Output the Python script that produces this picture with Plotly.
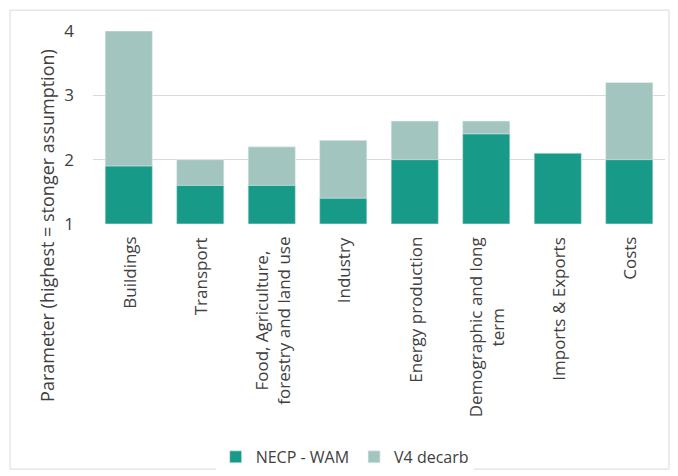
import plotly.graph_objects as go

categories = ["Buildings", "Transport", "Food, Agriculture,<br>forestry and land use", "Industry",
              "Energy production", "Demographic and long<br>term", "Imports & Exports", "Costs"]
necp_wam = [1.9, 1.6, 1.6, 1.4, 2.0, 2.4, 2.1, 2.0]
v4_decarb = [4.0, 2.0, 2.2, 2.3, 2.6, 2.6, 2.1, 3.2]
base_value = 1
y_title = "Parameter (highest = stonger assumption)"

dark = "#189A89"
light = "#A3C5BF"
text_color = "#404040"
font_family = "Open Sans, Noto Sans, sans-serif"

fig = go.Figure()
fig.add_trace(go.Bar(
    x=categories, y=[v - base_value for v in v4_decarb], base=base_value,
    name="V4 decarb", marker=dict(color=light, line=dict(color="#E6F0EE", width=0.6)),
    legendrank=2,
))
fig.add_trace(go.Bar(
    x=categories, y=[v - base_value for v in necp_wam], base=base_value,
    name="NECP - WAM", marker=dict(color=dark, line=dict(color="#E6F0EE", width=0.6)),
    legendrank=1,
))

annotations = []
for cat in categories:
    annotations.append(dict(
        x=cat, xref="x", y=0, yref="paper", yshift=-11,
        xanchor="center", yanchor="top", textangle=-90, align="center",
        text=cat, showarrow=False, font=dict(size=17, color=text_color),
    ))
annotations.append(dict(
    x=-0.0804, xref="paper", y=-0.01, yref="paper", xanchor="center", yanchor="middle",
    textangle=-90, text=y_title, showarrow=False, font=dict(size=18, color=text_color),
))

fig.update_layout(
    width=678, height=476,
    barmode="overlay", bargap=0.34,
    plot_bgcolor="white", paper_bgcolor="white",
    margin=dict(l=93, r=13, t=31, b=252, autoexpand=False),
    font=dict(family=font_family, color=text_color, size=15),
    legend=dict(orientation="h", x=0.44, xanchor="center", y=-1.207, yanchor="middle",
                font=dict(size=16, color=text_color), traceorder="normal"),
    annotations=annotations,
    shapes=[dict(type="rect", xref="paper", yref="paper",
                 x0=-0.145, x1=1.007, y0=-1.27, y1=1.108,
                 line=dict(color="#D9D9D9", width=1), fillcolor="rgba(0,0,0,0)", layer="below")],
)
fig.update_xaxes(showticklabels=False, showline=False, ticks="")
fig.update_yaxes(range=[1, 4], tickvals=[1, 2, 3, 4], showgrid=True, gridcolor="#D9D9D9",
                 gridwidth=1, zeroline=False, showline=False, ticks="",
                 ticklabelstandoff=18,
                 tickfont=dict(size=17, color=text_color))

fig.write_html("out.html")
